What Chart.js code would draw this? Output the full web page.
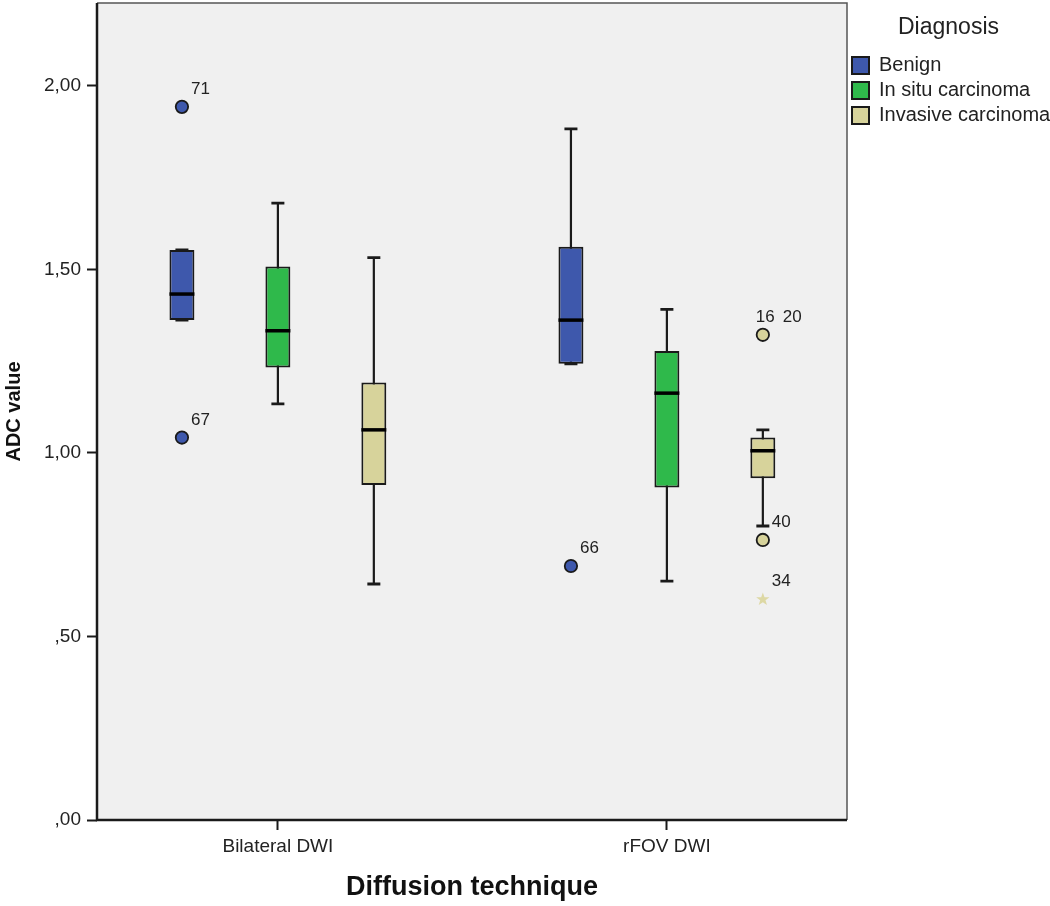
<!DOCTYPE html>
<html>
<head>
<meta charset="utf-8">
<title>ADC value by diffusion technique</title>
<script src="https://cdn.jsdelivr.net/npm/chart.js@4.4.1/dist/chart.umd.min.js"></script>
<style>
  html, body { margin: 0; padding: 0; background: #ffffff; }
  #wrap { width: 1050px; height: 906px; }
</style>
</head>
<body>
<div id="wrap"><canvas id="grafikADC"></canvas></div>
<script>
// ----------------------------------------------------------------
// DATA
// ----------------------------------------------------------------
const techniques = ["Bilateral DWI", "rFOV DWI"];
const diagnoses = ["Benign", "In situ carcinoma", "Invasive carcinoma"];
const yTicks = [0, 0.5, 1.0, 1.5, 2.0];

// box summaries, one value per technique
const benignLow = [1.362, 1.243];
const benignQ1 = [1.362, 1.243];
const benignMedian = [1.433, 1.362];
const benignQ3 = [1.553, 1.562];
const benignHigh = [1.553, 1.883];

const insituLow = [1.134, 0.651];
const insituQ1 = [1.233, 0.906];
const insituMedian = [1.333, 1.163];
const insituQ3 = [1.508, 1.278];
const insituHigh = [1.681, 1.391];

const invasiveLow = [0.643, 0.801];
const invasiveQ1 = [0.913, 0.931];
const invasiveMedian = [1.063, 1.006];
const invasiveQ3 = [1.192, 1.042];
const invasiveHigh = [1.532, 1.063];

// outliers (circles) and extremes (star), with their case numbers
const outlierTechnique = [0, 0, 1, 1, 1, 1, 1];
const outlierDiagnosis = [0, 0, 0, 2, 2, 2, 2];
const outlierValue = [1.943, 1.042, 0.692, 1.322, 1.322, 0.763, 0.601];
const outlierCase = ["71", "67", "66", "16", "20", "40", "34"];
const outlierExtreme = [false, false, false, false, false, false, true];

// ----------------------------------------------------------------
// STYLE
// ----------------------------------------------------------------
const fillColors = ["#3e58ac", "#2fb94b", "#d7d39b"];
const starColor = "#ddd8a4";
const ink = "#1a1a1a";
const textColor = "#222222";

const lowSeries = [benignLow, insituLow, invasiveLow];
const q1Series = [benignQ1, insituQ1, invasiveQ1];
const medianSeries = [benignMedian, insituMedian, invasiveMedian];
const q3Series = [benignQ3, insituQ3, invasiveQ3];
const highSeries = [benignHigh, insituHigh, invasiveHigh];

Chart.defaults.font.family = '"Liberation Sans", Arial, sans-serif';
Chart.defaults.color = textColor;

// whiskers, medians, outliers and the plot frame
const boxPlotPlugin = {
  id: "boxPlot",
  beforeDraw(chart) {
    const { ctx, chartArea: a } = chart;
    ctx.save();
    ctx.fillStyle = "#f0f0f0";
    ctx.fillRect(a.left, a.top, a.right - a.left, a.bottom - a.top);
    ctx.restore();
  },
  beforeDatasetsDraw(chart) {
    const { ctx } = chart;
    const yScale = chart.scales.y;
    ctx.save();
    ctx.strokeStyle = ink;
    ctx.lineCap = "butt";
    diagnoses.forEach((d, di) => {
      const meta = chart.getDatasetMeta(di);
      meta.data.forEach((bar, ti) => {
        const yLow = yScale.getPixelForValue(lowSeries[di][ti]);
        const yHigh = yScale.getPixelForValue(highSeries[di][ti]);
        const capHalf = 6.5;
        ctx.lineWidth = 2.2;
        ctx.beginPath();
        ctx.moveTo(bar.x, yLow);
        ctx.lineTo(bar.x, yHigh);
        ctx.stroke();
        ctx.lineWidth = 2.8;
        ctx.beginPath();
        ctx.moveTo(bar.x - capHalf, yLow);
        ctx.lineTo(bar.x + capHalf, yLow);
        ctx.moveTo(bar.x - capHalf, yHigh);
        ctx.lineTo(bar.x + capHalf, yHigh);
        ctx.stroke();
      });
    });
    ctx.restore();
  },
  afterDatasetsDraw(chart) {
    const { ctx } = chart;
    const yScale = chart.scales.y;
    ctx.save();

    // median lines
    ctx.strokeStyle = "#000000";
    ctx.lineWidth = 3.5;
    diagnoses.forEach((d, di) => {
      const meta = chart.getDatasetMeta(di);
      meta.data.forEach((bar, ti) => {
        const yMed = yScale.getPixelForValue(medianSeries[di][ti]);
        ctx.beginPath();
        ctx.moveTo(bar.x - bar.width / 2, yMed);
        ctx.lineTo(bar.x + bar.width / 2, yMed);
        ctx.stroke();
      });
    });

    // outliers: cases at the same spot share one marker
    const groups = [];
    outlierValue.forEach((v, i) => {
      const key = outlierTechnique[i] + "|" + outlierDiagnosis[i] + "|" + v;
      let g = groups.find((x) => x.key === key);
      if (!g) {
        g = { key, index: i, cases: [] };
        groups.push(g);
      }
      g.cases.push(outlierCase[i]);
    });

    ctx.font = '17px "Liberation Sans", Arial, sans-serif';
    ctx.textBaseline = "alphabetic";
    ctx.textAlign = "left";
    groups.forEach((g) => {
      const i = g.index;
      const di = outlierDiagnosis[i];
      const bar = chart.getDatasetMeta(di).data[outlierTechnique[i]];
      const x = bar.x;
      const y = yScale.getPixelForValue(outlierValue[i]);

      if (outlierExtreme[i]) {
        // small five-pointed star
        ctx.fillStyle = starColor;
        ctx.beginPath();
        for (let k = 0; k < 10; k++) {
          const r = k % 2 === 0 ? 7 : 2.8;
          const ang = -Math.PI / 2 + (k * Math.PI) / 5;
          const px = x + r * Math.cos(ang);
          const py = y + r * Math.sin(ang);
          if (k === 0) ctx.moveTo(px, py);
          else ctx.lineTo(px, py);
        }
        ctx.closePath();
        ctx.fill();
      } else {
        ctx.fillStyle = fillColors[di];
        ctx.strokeStyle = ink;
        ctx.lineWidth = 1.8;
        ctx.beginPath();
        ctx.arc(x, y, 6.2, 0, Math.PI * 2);
        ctx.fill();
        ctx.stroke();
      }

      ctx.fillStyle = textColor;
      let tx = x + 9 - (g.cases.length - 1) * 16;
      g.cases.forEach((c) => {
        ctx.fillText(c, tx, y - 13);
        tx += ctx.measureText(c).width + 8;
      });
    });
    ctx.restore();
  },
  afterDraw(chart) {
    const { ctx, chartArea: a } = chart;
    ctx.save();
    ctx.strokeStyle = "#555555";
    ctx.lineWidth = 1.5;
    ctx.beginPath();
    ctx.moveTo(a.left, a.top);
    ctx.lineTo(a.right, a.top);
    ctx.lineTo(a.right, a.bottom);
    ctx.stroke();
    ctx.strokeStyle = ink;
    ctx.lineWidth = 2.5;
    ctx.beginPath();
    ctx.moveTo(a.left, a.top);
    ctx.lineTo(a.left, a.bottom);
    ctx.lineTo(a.right, a.bottom);
    ctx.stroke();
    ctx.restore();
  },
};

// ----------------------------------------------------------------
// CHART
// ----------------------------------------------------------------
const ctxADC = document.getElementById("grafikADC").getContext("2d");
new Chart(ctxADC, {
  type: "bar",
  data: {
    datasets: diagnoses.map((name, di) => ({
      label: name,
      data: techniques.map((t, ti) => ({
        x: ti,
        y: [q1Series[di][ti], q3Series[di][ti]],
      })),
      backgroundColor: fillColors[di],
      borderColor: ink,
      borderWidth: 2,
      borderSkipped: false,
      categoryPercentage: 0.74,
      barPercentage: 0.26,
    })),
  },
  options: {
    responsive: true,
    maintainAspectRatio: false,
    animation: false,
    layout: { padding: 0 },
    scales: {
      x: {
        type: "linear",
        offset: false,
        min: -0.465,
        max: 1.463,
        afterBuildTicks: (s) => {
          s.ticks = techniques.map((t, i) => ({ value: i }));
        },
        afterFit: (s) => {
          s.height = 86;
        },
        ticks: {
          callback: (v) => techniques[v],
          font: { size: 19 },
          color: textColor,
          padding: 5,
          maxRotation: 0,
          autoSkip: false,
        },
        grid: {
          offset: false,
          drawOnChartArea: false,
          tickLength: 10,
          tickWidth: 2,
          tickColor: ink,
        },
        border: { display: false },
        title: {
          display: true,
          text: "Diffusion technique",
          font: { size: 27, weight: "bold" },
          color: "#111111",
          padding: { top: 0, bottom: 2 },
        },
      },
      y: {
        min: 0,
        max: 2.226,
        afterBuildTicks: (s) => {
          s.ticks = yTicks.map((v) => ({ value: v }));
        },
        afterFit: (s) => {
          s.width = 97;
          s.paddingTop = 3;
          s.paddingBottom = 0;
        },
        ticks: {
          callback: (v) => v.toFixed(2).replace(".", ",").replace(/^0/, ""),
          font: { size: 19 },
          color: textColor,
          padding: 6,
        },
        grid: {
          drawOnChartArea: false,
          tickLength: 10,
          tickWidth: 2,
          tickColor: ink,
        },
        border: { display: false },
        title: {
          display: true,
          text: "ADC value",
          font: { size: 20, weight: "bold" },
          color: "#111111",
          padding: { top: 2, bottom: 0 },
        },
      },
    },
    plugins: {
      tooltip: { enabled: false },
      legend: {
        position: "right",
        align: "start",
        maxWidth: 203,
        title: {
          display: true,
          text: "Diagnosis",
          font: { size: 23 },
          color: textColor,
          padding: { top: 16, bottom: 7 },
        },
        labels: {
          boxWidth: 17,
          boxHeight: 17,
          padding: 5,
          font: { size: 20 },
          color: textColor,
        },
      },
    },
  },
  plugins: [boxPlotPlugin],
});
</script>
</body>
</html>
